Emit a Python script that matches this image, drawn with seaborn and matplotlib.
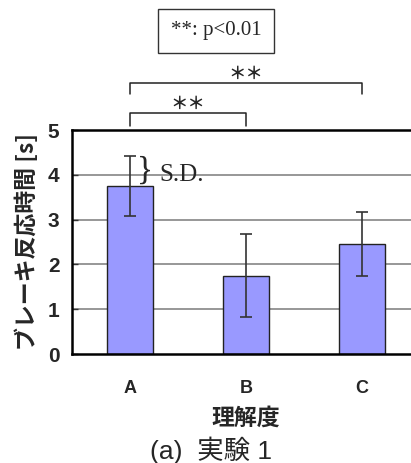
import matplotlib
matplotlib.use("Agg")
import matplotlib.pyplot as plt
import seaborn as sns
import pandas as pd

# Brake reaction time by comprehension level (Experiment 1)
categories = ["A", "B", "C"]
mean_time = [3.75, 1.75, 2.46]
sd_time = [0.68, 0.93, 0.72]
y_ticks = [0, 1, 2, 3, 4, 5]

sig_pairs = [(0, 1), (0, 2)]
sig_labels = ["＊＊", "＊＊"]

sns.set_theme(style="white")
plt.rcParams["font.family"] = ["Liberation Sans", "Noto Sans CJK JP", "DejaVu Sans"]

df = pd.DataFrame({"level": categories, "time": mean_time})

fig = plt.figure(figsize=(4.11, 4.63), dpi=100)
ax = fig.add_axes([72 / 411, 109 / 463, 348 / 411, 224 / 463])

# horizontal reference lines behind the bars
for v in y_ticks[1:-1]:
    ax.axhline(v, color="#7a7a7a", lw=1.1, zorder=0)

sns.barplot(data=df, x="level", y="time", color="#9999ff", saturation=1,
            width=0.4, edgecolor="#222222", linewidth=1.0, errorbar=None,
            ax=ax, zorder=2)
ax.errorbar(range(len(categories)), mean_time, yerr=sd_time, fmt="none",
            ecolor="#333333", elinewidth=1.2, capsize=4, capthick=1.2, zorder=3)

ax.set_xlim(-0.5, 2.5)
ax.set_ylim(0, 5)
ax.set_yticks(y_ticks)
ax.set_yticklabels([str(t) for t in y_ticks], fontsize=15, fontweight="bold")
ax.set_xticks(range(len(categories)))
ax.set_xticklabels(categories, fontsize=13, fontweight="bold")
ax.set_xticks([0.5, 1.5], minor=True)
ax.tick_params(axis="x", which="major", length=0, pad=19)
ax.tick_params(axis="x", which="minor", direction="in", length=5, width=1, color="#333333")
ax.tick_params(axis="y", which="major", direction="in", length=4, width=1,
               color="#333333", pad=9, left=True)
for s in ax.spines.values():
    s.set_visible(True)
    s.set_color("black")
    s.set_linewidth(1.8)

ax.set_ylabel("ブレーキ反応時間 [s]", fontsize=16.5, fontweight="bold",
              family=["Noto Sans CJK JP"], labelpad=6)
ax.set_xlabel("理解度", fontsize=16.5, fontweight="bold",
              family=["Noto Sans CJK JP"], labelpad=7)

# S.D. brace next to bar A
ax.text(0.13, mean_time[0] + sd_time[0] / 2, "}", family="Liberation Serif",
        fontsize=24, ha="center", va="center", zorder=4)
ax.text(0.25, 4.0, "S.D.", family="Liberation Serif", fontsize=18,
        ha="left", va="center", zorder=4)

# significance brackets above the axes
levels = [(5.38, 5.09), (6.05, 5.80)]
for (i, j), lab, (ytop, yleg) in zip(sig_pairs, sig_labels, levels):
    ax.plot([i, i, j, j], [yleg, ytop, ytop, yleg], color="#222222", lw=1.1,
            clip_on=False)
    ax.text((i + j) / 2, ytop + 0.2, lab, fontsize=12.5, ha="center",
            va="center", family="Noto Sans CJK JP", fontweight="bold",
            clip_on=False)

fig.text(216 / 411, 1 - 30.5 / 463, "**: p<0.01", family="Liberation Serif",
         fontsize=15, ha="center", va="center",
         bbox=dict(boxstyle="square,pad=0.6", fc="white", ec="#333333", lw=1))

fig.text(211 / 411, 1 - 450 / 463, "(a)  実験 1", fontsize=19,
         ha="center", va="center")

fig.savefig("out.png", dpi=100)
